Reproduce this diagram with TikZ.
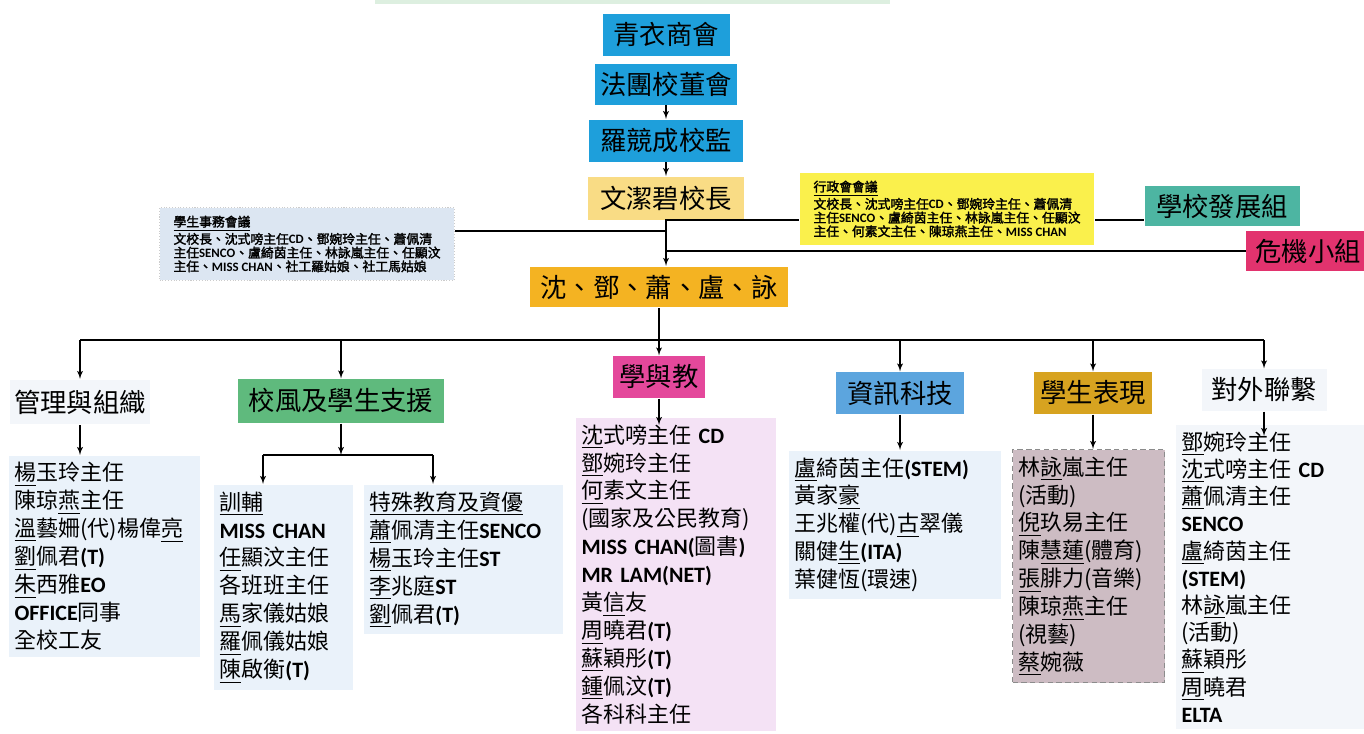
\documentclass[tikz,border=0pt]{standalone}
\usepackage{fontspec}
\setmainfont{Noto Sans CJK TC}
\newfontfamily\meetfont{Noto Sans CJK TC}[FakeBold=2]
\newfontfamily\latf{Carlito}
\newcommand\eng[1]{{\latf\bfseries #1}}
\usepackage{tikz}
\usetikzlibrary{shapes,arrows,positioning,calc}

\definecolor{topblue}{HTML}{1E9FDB}
\definecolor{headyel}{HTML}{F9DC85}
\definecolor{adminyel}{HTML}{FAF04C}
\definecolor{stublue}{HTML}{DCE6F2}
\definecolor{devteal}{HTML}{4DB5A2}
\definecolor{crisred}{HTML}{E2336E}
\definecolor{vporange}{HTML}{F4B322}
\definecolor{supgreen}{HTML}{5FBA7D}
\definecolor{tlmag}{HTML}{E4489B}
\definecolor{itblue}{HTML}{5CA5DE}
\definecolor{perfgold}{HTML}{D7A320}
\definecolor{listblue}{HTML}{EAF2FA}
\definecolor{listpink}{HTML}{F4E2F5}
\definecolor{listmauve}{HTML}{CDBCC3}
\definecolor{paleback}{HTML}{F3F6FA}
\definecolor{topgreen}{HTML}{DDEFE0}

\begin{document}
\begin{tikzpicture}[x=0.02cm, y=-0.02cm, >=latex', line width=0.6pt,
    box/.style={rectangle, inner sep=0pt, font=\fontsize{15}{18}\selectfont},
    meet/.style={rectangle, align=left, inner sep=3pt, font=\fontsize{7.3}{7.8}\selectfont\meetfont},
    roster/.style={rectangle, anchor=north west, align=left, inner xsep=0.12cm, inner ysep=0.14cm, font=\fontsize{12.5}{15.9}\selectfont}]
    \useasboundingbox (0,0) rectangle (1364,733);
    \fill[topgreen] (375,0) rectangle (890,4);

    % top of the chart
    \node [box, fill=topblue, minimum width=2.54cm, minimum height=0.86cm] (chamber) at (666,35) {青衣商會};
    \node [box, fill=topblue, minimum width=2.84cm, minimum height=0.82cm, below=0.12cm of chamber] (board) {法團校董會};
    \node [box, fill=topblue, minimum width=3.08cm, minimum height=0.84cm, below=0.28cm of board] (super) {羅競成校監};
    \node [box, fill=headyel, minimum width=3.12cm, minimum height=0.86cm, below=0.28cm of super] (princ) {文潔碧校長};

    \node [meet, fill=adminyel, minimum width=5.9cm, minimum height=1.44cm] (admin) at (947,209) {\underline{行政會會議}\\文校長、沈式嗙主任\eng{CD}、鄧婉玲主任、蕭佩清\\主任\eng{SENCO}、盧綺茵主任、林詠嵐主任、任顯汶\\主任、何素文主任、陳琼燕主任、\eng{MISS CHAN}};
    \node [meet, fill=stublue, draw=black!20, densely dotted, minimum width=5.9cm, minimum height=1.46cm] (stu) at (307,244) {\underline{學生事務會議}\\文校長、沈式嗙主任\eng{CD}、鄧婉玲主任、蕭佩清\\主任\eng{SENCO}、盧綺茵主任、林詠嵐主任、任顯汶\\主任、\eng{MISS CHAN}、社工羅姑娘、社工馬姑娘};
    \node [box, fill=devteal, minimum width=3.1cm, minimum height=0.82cm] (dev) at (1222,206) {學校發展組};
    \node [box, fill=crisred, minimum width=2.48cm, minimum height=0.82cm] (crisis) at (1308,251) {危機小組};

    \node [box, fill=vporange, minimum width=5.16cm, minimum height=0.82cm] (vp) at (659,287) {沈、鄧、蕭、盧、詠};

    \draw [->] (board) -- (super);
    \draw [->] (super) -- (princ);
    \draw [->] (princ.south) -- (princ.south |- vp.north);
    \coordinate (stuj) at (665,231);
    \coordinate (devj) at (665,220);
    \coordinate (crj) at (665,251);
    \draw (stu.east |- stuj) -- (stuj);
    \draw (devj) -- (devj -| admin.west);
    \draw (devj -| admin.east) -- (devj -| dev.west);
    \draw (crj) -- (crj -| crisis.west);

    % the six groups
    \node [box, fill=paleback, minimum width=2.8cm, minimum height=0.9cm] (mg) at (80,402) {管理與組織};
    \node [box, fill=supgreen, minimum width=4.12cm, minimum height=0.88cm] (xf) at (341,401) {校風及學生支援};
    \node [box, fill=tlmag, minimum width=1.84cm, minimum height=0.84cm] (xy) at (659,377) {學與教};
    \node [box, fill=itblue, minimum width=2.56cm, minimum height=0.84cm] (it) at (900,393) {資訊科技};
    \node [box, fill=perfgold, minimum width=2.36cm, minimum height=0.84cm] (sp) at (1093,393) {學生表現};
    \node [box, fill=paleback, minimum width=2.5cm, minimum height=0.84cm] (ex) at (1264,390) {對外聯繫};

    \coordinate (bus) at (659,340);
    \draw (mg.north |- bus) -- (ex.north |- bus);
    \foreach \n in {mg, xf, it, sp, ex}
        \draw [->] (\n.north |- bus) -- (\n.north);
    \draw [->] (vp.south) -- (vp.south |- xy.north);

    % name lists
    \node [roster, fill=listblue, text width=3.6cm] (mgl) at (8,455) {\underline{楊}玉玲主任\\陳琼\underline{燕}主任\\\underline{溫}藝姍(代)楊偉\underline{亮}\\\underline{劉}佩君\eng{(T)}\\\underline{朱}西雅\eng{EO}\\\eng{OFFICE}同事\\全校工友};
    \node [roster, fill=listblue, text width=2.54cm] (xfa) at (213,484) {\underline{訓輔}\\\eng{MISS CHAN}\\\underline{任}顯汶主任\\各班班主任\\\underline{馬}家儀姑娘\\\underline{羅}佩儀姑娘\\\underline{陳}啟衡\eng{(T)}};
    \node [roster, fill=listblue, text width=3.76cm] (xfb) at (363,484) {\underline{特殊教育及資優}\\\underline{蕭}佩清主任\eng{SENCO}\\\underline{楊}玉玲主任\eng{ST}\\\underline{李}兆庭\eng{ST}\\\underline{劉}佩君\eng{(T)}};
    \node [roster, fill=listpink, text width=3.76cm] (xyl) at (575,417) {\underline{沈}式嗙主任 \eng{CD}\\\underline{鄧}婉玲主任\\\underline{何}素文主任\\(國家及公民教育)\\\eng{MISS CHAN(}圖書\eng{)}\\\eng{MR LAM(NET)}\\黃\underline{信}友\\\underline{周}曉君\eng{(T)}\\\underline{蘇}穎彤\eng{(T)}\\\underline{鍾}佩汶\eng{(T)}\\各科科主任};
    \node [roster, fill=listblue, text width=4.0cm] (itl) at (788,450) {\underline{盧}綺茵主任\eng{(STEM)}\\黃家\underline{豪}\\王兆權(代)\underline{古}翠儀\\關健\underline{生}\eng{(ITA)}\\葉健恆(環速)};
    \node [roster, fill=listmauve, draw=black!45, densely dashed, text width=2.8cm] (spl) at (1012,449) {林\underline{詠}嵐主任\\(活動)\\\underline{倪}玖易主任\\陳\underline{慧蓮}(體育)\\\underline{張}腓力(音樂)\\陳琼\underline{燕}主任\\(視藝)\\\underline{蔡}婉薇};
    \node [roster, fill=paleback, text width=3.8cm, font=\fontsize{12.5}{15.5}\selectfont] (exl) at (1175,424) {\underline{鄧}婉玲主任\\\underline{沈}式嗙主任 \eng{CD}\\\underline{蕭}佩清主任\\\eng{SENCO}\\\underline{盧}綺茵主任\\\eng{(STEM)}\\林\underline{詠}嵐主任\\(活動)\\\underline{蘇}穎彤\\\underline{周}曉君\\\eng{ELTA}};

    \draw [->] (mg.south) -- (mg.south |- mgl.north);
    \coordinate (xfj) at (341,455);
    \coordinate (xfl) at (263,455);
    \coordinate (xfr) at (433,455);
    \draw [->] (xf.south) -- (xfj);
    \draw (xfl) -- (xfr);
    \draw [->] (xfl) -- (xfl |- xfa.north);
    \draw [->] (xfr) -- (xfr |- xfb.north);
    \draw [->] (xy.south) -- ($(xy.south |- xyl.north)+(0,8)$);
    \draw [->] (it.south) -- (it.south |- itl.north);
    \draw [->] (sp.south) -- (sp.south |- spl.north);
    \draw [->] (ex.south) -- ($(ex.south |- exl.north)+(0,12)$);
\end{tikzpicture}
\end{document}
